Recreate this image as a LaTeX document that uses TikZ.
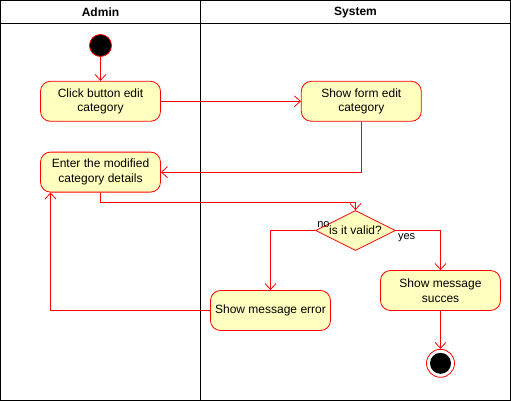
\documentclass[tikz,border=0pt]{standalone}
\usepackage{fontspec}
\setmainfont{Liberation Sans}
\usepackage{tikz}
\usetikzlibrary{arrows.meta,positioning,shapes.geometric}

\definecolor{actfill}{HTML}{FFFFC0}
\definecolor{actline}{HTML}{FF0000}

\tikzset{
  act/.style={rectangle,rounded corners=10pt,draw=actline,fill=actfill,line width=0.8pt,
    minimum width=120pt,minimum height=40pt,align=center,inner sep=4pt,
    font=\fontsize{12}{14.5}\selectfont},
  decide/.style={diamond,draw=actline,fill=actfill,line width=0.8pt,aspect=2,inner sep=0pt,
    minimum width=80pt,minimum height=40pt,font=\fontsize{12}{14.5}\selectfont},
  flow/.style={draw=actline,line width=0.8pt,-{Straight Barb[length=6pt,width=11pt]}},
  lane/.style={draw=black,line width=0.8pt},
  guard/.style={font=\fontsize{11}{13}\selectfont,inner sep=1pt}
}

\begin{document}
\begin{tikzpicture}[x=1pt,y=-1pt,node distance=24pt]
\useasboundingbox (-0.5,-0.5) rectangle (510.5,400.5);

% swimlanes
\draw[lane] (0,0) rectangle (510,400);
\draw[lane] (0,23) -- (510,23);
\draw[lane] (200,0) -- (200,400);
\node(admin) at (100,12){\fontsize{12}{14}\selectfont\bfseries Admin};
\node(system) at (355,12){\fontsize{12}{14}\selectfont\bfseries System};

\node(start)[circle,draw=actline,fill=black,line width=0.8pt,minimum size=22pt,inner sep=0pt] at (100,45){};

\node(click)[act,below=24pt of start]{Click button edit\\category};

\node(form)[act,right=140pt of click]{Show form edit\\category};

\node(enter)[act,below=30pt of click]{Enter the modified\\category details};

\node(valid)[decide] at (355,230){is it valid?};

\node(err)[act] at (270,310){Show message error};

\node(succ)[act] at (440,290){Show message\\succes};

\node(stop)[circle,draw=actline,fill=white,line width=0.8pt,minimum size=28pt,inner sep=0pt,
  below=38pt of succ,
  path picture={\fill[black] (path picture bounding box.center) circle (10.5pt);}]{};

\draw [flow] (start) -- (click);
\draw [flow] (click) -- (form);
\draw [flow] (form) |- (enter);
\draw [flow] (enter.south) -- ++(0,10) -| (valid.north);
\draw [flow] (valid.west) -| (err.north);
\draw [flow] (valid.east) -| (succ.north);
\draw [flow] (err.west) -| ([xshift=-50pt]enter.south);
\draw [flow] (succ) -- (stop);

\node(no)[guard,above right=2pt and 1pt of valid.west]{no};
\node(yes)[guard,below right=2pt and 1pt of valid.east]{yes};

\end{tikzpicture}
\end{document}
